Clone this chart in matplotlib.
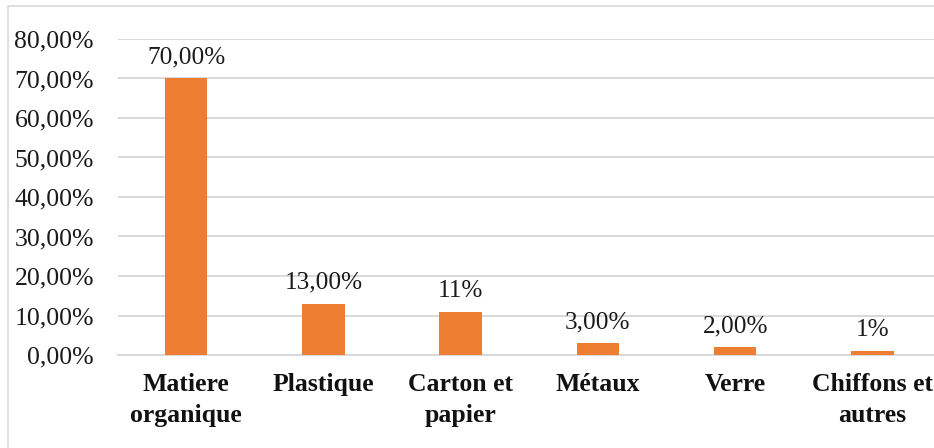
import matplotlib
matplotlib.use("Agg")
import matplotlib.pyplot as plt
from matplotlib.patches import Rectangle

categories = ["Matiere\norganique", "Plastique", "Carton et\npapier", "Métaux", "Verre", "Chiffons et\nautres"]
values = [70, 13, 11, 3, 2, 1]
value_labels = ["70,00%", "13,00%", "11%", "3,00%", "2,00%", "1%"]
y_ticks = [0, 10, 20, 30, 40, 50, 60, 70, 80]
y_tick_labels = ["0,00%", "10,00%", "20,00%", "30,00%", "40,00%", "50,00%", "60,00%", "70,00%", "80,00%"]

plt.rcParams["font.family"] = ["Liberation Serif", "DejaVu Serif"]

W, H = 934, 448
fig = plt.figure(figsize=(W / 100, H / 100), dpi=100)

# chart frame
fig.patches.append(Rectangle((8 / W, -0.1), 1.2, (H - 6) / H + 0.1, transform=fig.transFigure,
                             fill=False, edgecolor="#d9d9d9", linewidth=1.2))

left, right = 117.5, 941
ax = fig.add_axes([left / W, 93 / H, (right - left) / W, 316 / H])
ax.set_facecolor("none")

x = range(len(categories))
ax.bar(x, values, width=0.31, color="#ED7D31", zorder=3)
for xi, v, lab in zip(x, values, value_labels):
    ax.annotate(lab, (xi, v), xytext=(0, 7), textcoords="offset points",
                ha="center", va="bottom", fontsize=18.2, color="#1a1a1a")

ax.set_xlim(-0.5, len(categories) - 0.5)
ax.set_ylim(0, 80)
ax.set_yticks(y_ticks)
ax.set_yticklabels(y_tick_labels, fontsize=18.5, color="#1a1a1a")
ax.set_xticks(list(x))
ax.set_xticklabels(categories, fontsize=18.5, fontweight="bold", color="#111111", linespacing=1.45)
ax.tick_params(axis="y", length=0, pad=17)
ax.tick_params(axis="x", length=0, pad=13)
ax.grid(axis="y", color="#d9d9d9", linewidth=1.4, zorder=0)
for s in ["top", "right", "left"]:
    ax.spines[s].set_visible(False)
ax.spines["bottom"].set_color("#d9d9d9")
ax.spines["bottom"].set_linewidth(1.4)

fig.savefig("out.png", dpi=100)
